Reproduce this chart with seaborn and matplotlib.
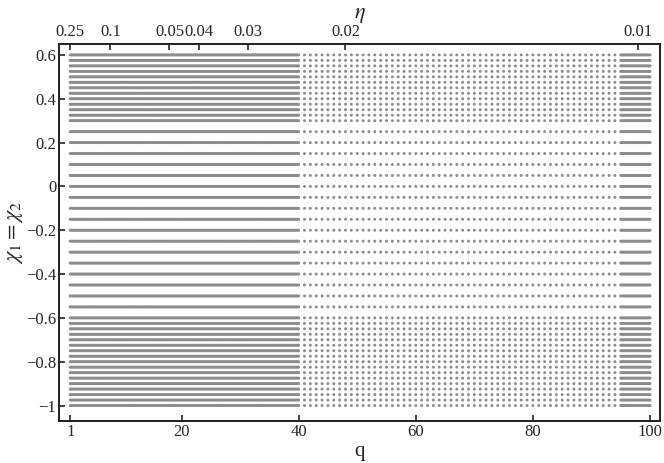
import matplotlib
matplotlib.use('Agg')

import numpy as np
import pandas as pd
import matplotlib.pyplot as plt
import seaborn as sns

sns.set_style('ticks')
plt.rcParams['font.family'] = ['Liberation Serif', 'DejaVu Serif']
plt.rcParams['mathtext.fontset'] = 'stix'

# grid of (q, chi) points
q_low = np.arange(1, 40.01, 0.2)      # dense block, q = 1..40
q_mid = np.arange(41, 95, 1.0)        # sparse block, integer q
q_high = np.arange(95, 100.01, 0.2)   # dense block, q = 95..100
chi_low = np.arange(-1, -0.6249, 0.025)
chi_mid = np.arange(-0.6, 0.2501, 0.05)
chi_high = np.arange(0.3, 0.6001, 0.025)

q_vals = np.concatenate([q_low, q_mid, q_high])
chi_vals = np.concatenate([chi_low, chi_mid, chi_high])

eta_ticks = [0.25, 0.1, 0.05, 0.04, 0.03, 0.02, 0.01]
eta_labels = ['0.25', '0.1', '0.05', '0.04', '0.03', '0.02', '0.01']
q_ticks = [1, 20, 40, 60, 80, 100]
chi_ticks = [-1, -0.8, -0.6, -0.4, -0.2, 0, 0.2, 0.4, 0.6]

Q, C = np.meshgrid(q_vals, chi_vals)
df = pd.DataFrame({'q': Q.ravel(), 'chi': C.ravel()})

fig = plt.figure(figsize=(6.64, 4.63), dpi=100)
ax = fig.add_axes([0.089, 0.091, 0.905, 0.814])
sns.scatterplot(data=df, x='q', y='chi', ax=ax, s=4.5, color='#8c8c8c',
                edgecolor='none', linewidth=0, legend=False)

ax.set_xlim(-0.9, 101.7)
ax.set_ylim(-1.07, 0.65)
ax.set_xticks(q_ticks)
ax.set_xticklabels([str(t) for t in q_ticks])
ax.set_yticks(chi_ticks)


def fmt(v):
    if abs(v) < 1e-9:
        return '0'
    if float(v).is_integer():
        s = str(int(v))
    else:
        s = ('%g' % v)
    return s.replace('-', '\u2212')


ax.set_yticklabels([fmt(t) for t in chi_ticks])
ax.tick_params(direction='in', length=4, width=1.2, labelsize=12, pad=2)
ax.set_xlabel('q', fontsize=15, labelpad=2)
ax.set_ylabel(r'$\chi_1=\chi_2$', fontsize=16, labelpad=1)
for sp in ax.spines.values():
    sp.set_linewidth(1.4)

# eta = q / (1 + q)^2 on the top axis
eta_q = [(1 - 2 * e + np.sqrt(1 - 4 * e)) / (2 * e) if e < 0.25 else 1.0
         for e in eta_ticks]
top = ax.twiny()
top.set_xlim(ax.get_xlim())
top.set_xticks(eta_q)
top.set_xticklabels(eta_labels)
top.tick_params(direction='in', length=4, width=1.2, labelsize=12, pad=3)
top.set_xlabel(r'$\eta$', fontsize=16, labelpad=4)
for sp in top.spines.values():
    sp.set_linewidth(1.4)

fig.savefig('out.png', dpi=100)
